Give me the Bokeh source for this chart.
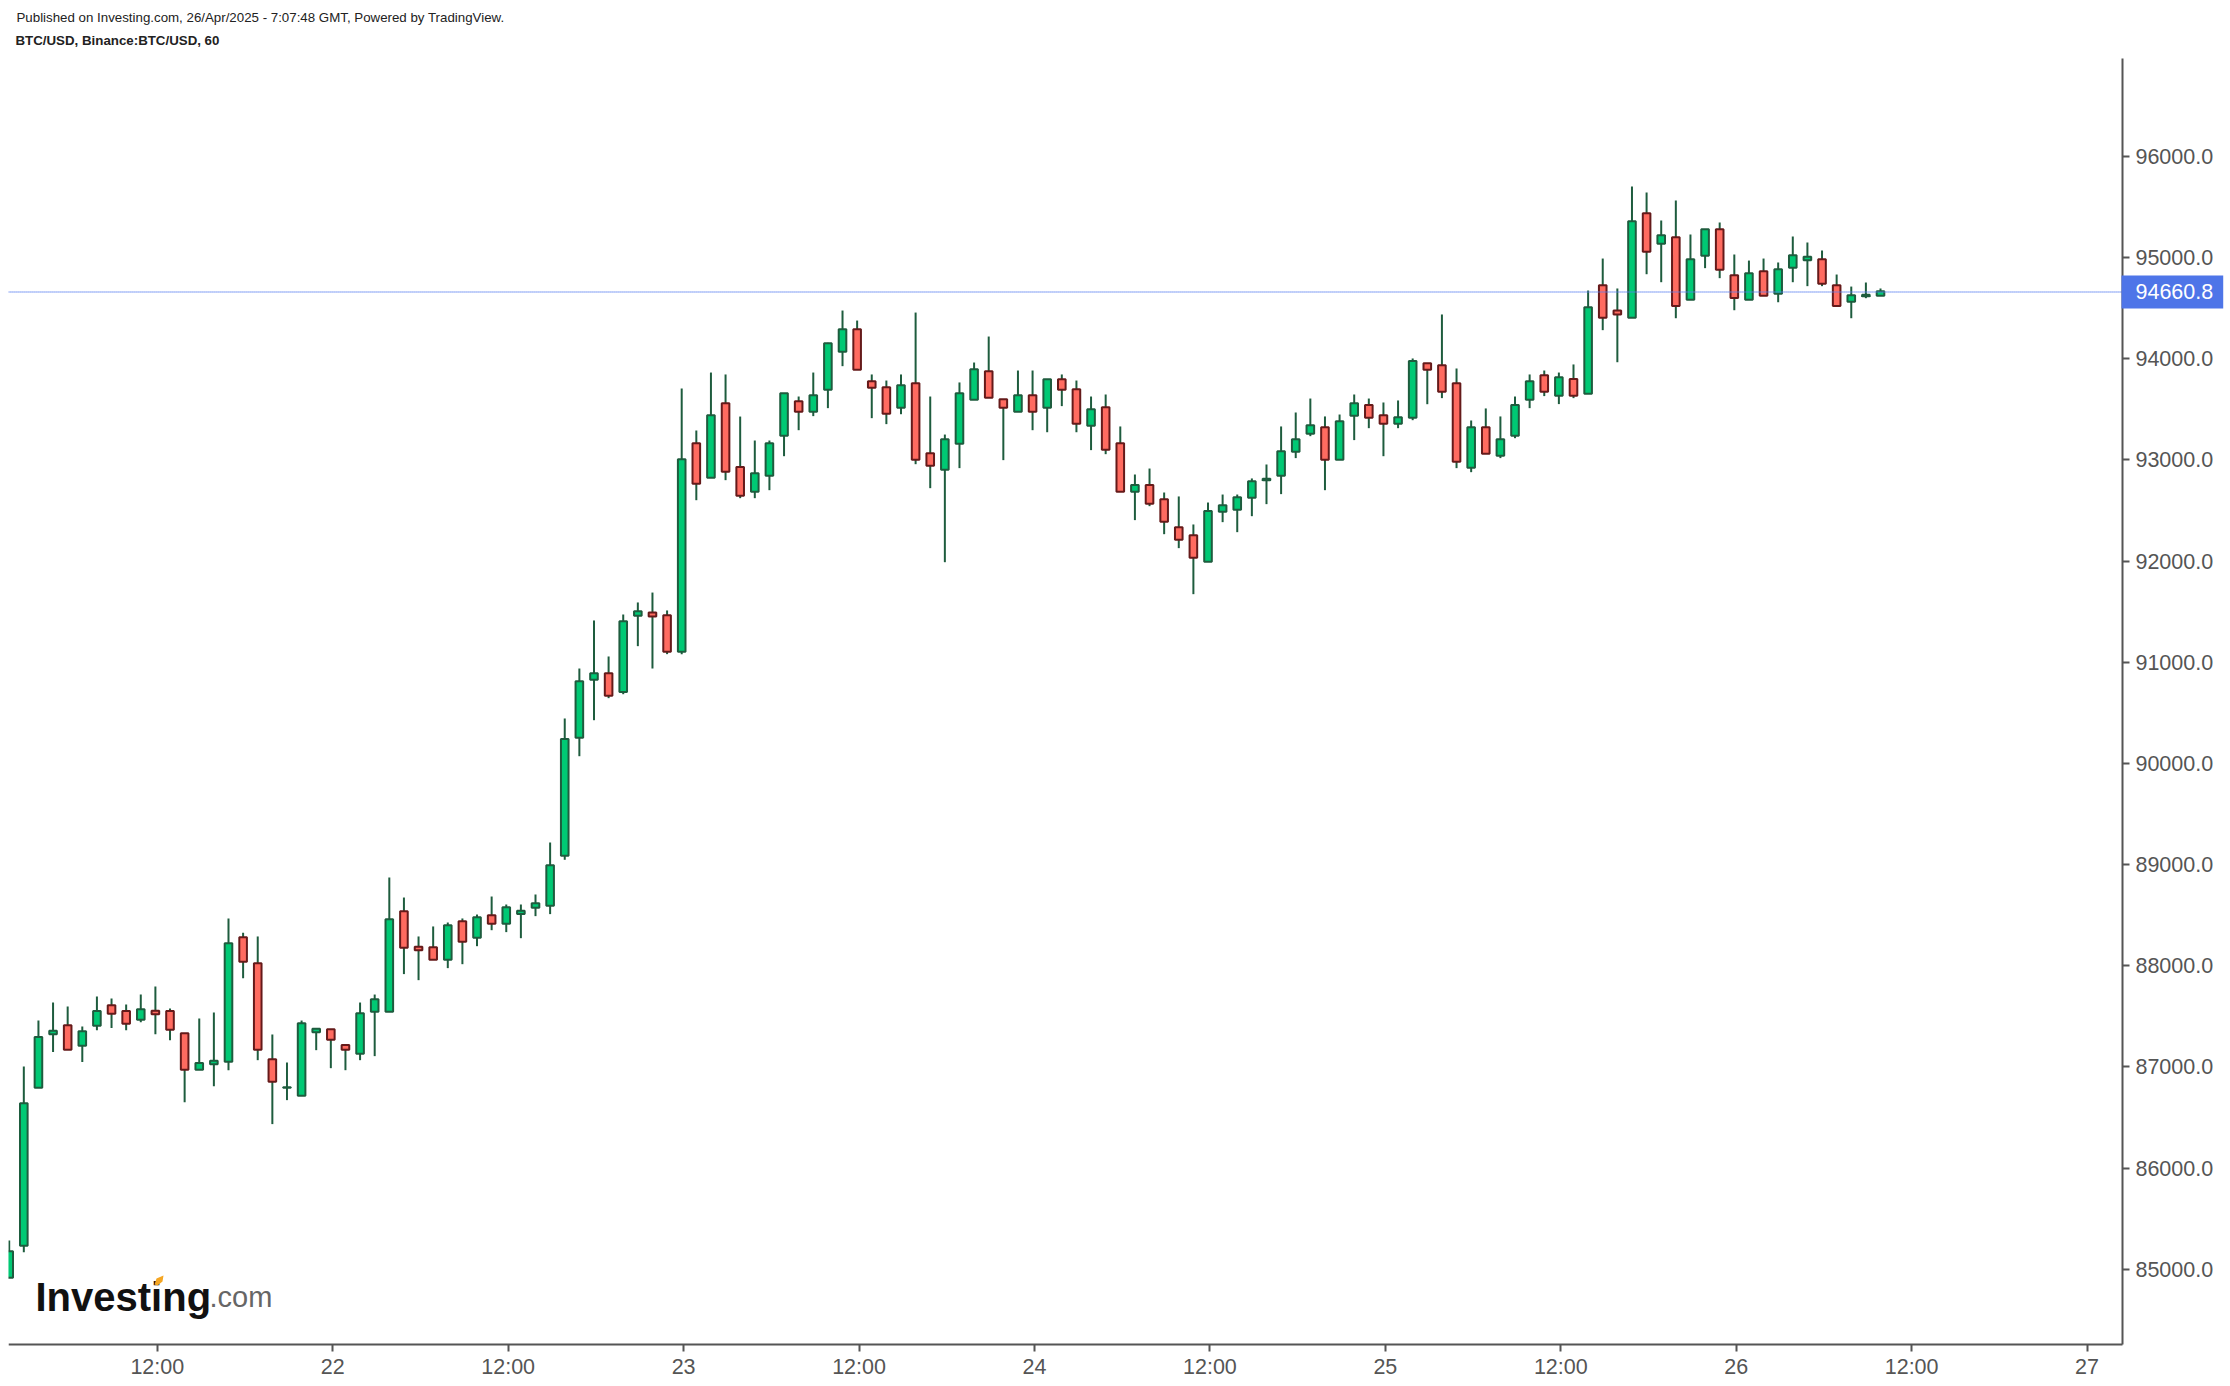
# BTC/USD hourly candles, Investing.com / TradingView look

import pandas as pd
from bokeh.plotting import figure, ColumnDataSource
from bokeh.models import BoxAnnotation, FixedTicker, Label, PolyAnnotation, Range1d
from bokeh.embed import file_html
from bokeh.resources import INLINE

opens = [84915, 85231, 86793, 87323, 87412, 87208, 87406, 87610, 87551, 87465,
         87554, 87551, 87333, 86971, 87027, 87050, 88282, 88025, 87076, 86793,
         86714, 87343, 87373, 87215, 87129, 87544, 87544, 88539, 88187, 88183,
         88058, 88440, 88276, 88500, 88414, 88510, 88572, 88592, 89086, 90253,
         90826, 90892, 90707, 91459, 91492, 91465, 91103, 93166, 92823, 93561,
         92929, 92685, 92843, 93238, 93581, 93476, 93693, 94069, 94293, 93779,
         93719, 93515, 93759, 93067, 92902, 93159, 93594, 93878, 93601, 93476,
         93640, 93515, 93798, 93700, 93337, 93522, 93166, 92685, 92751, 92612,
         92335, 92256, 91993, 92487, 92507, 92625, 92800, 92843, 93080, 93258,
         93324, 93001, 93436, 93542, 93443, 93357, 93416, 93957, 93937, 93759,
         92922, 93324, 93041, 93238, 93594, 93838, 93634, 93799, 93654, 94728,
         94477, 94405, 95439, 95136, 95202, 94583, 95018, 95281, 94826, 94583,
         94866, 94642, 94899, 94975, 94985, 94728, 94563, 94619, 94622]
highs = [85284, 87004, 87458, 87636, 87597, 87399, 87696, 87676, 87617, 87715,
         87795, 87577, 87333, 87478, 87538, 88467, 88325, 88289, 87320, 87043,
         87458, 87376, 87373, 87218, 87636, 87715, 88872, 88674, 88289, 88388,
         88427, 88467, 88506, 88684, 88605, 88605, 88704, 89218, 90444, 90938,
         91413, 91057, 91472, 91591, 91689, 91512, 93706, 93291, 93864, 93845,
         93429, 93192, 93192, 93660, 93627, 93864, 94158, 94477, 94378, 93845,
         93785, 93845, 94457, 93627, 93251, 93766, 93963, 94220, 93601, 93884,
         93884, 93798, 93845, 93785, 93627, 93647, 93331, 92856, 92915, 92678,
         92639, 92362, 92579, 92658, 92658, 92817, 92955, 93331, 93469, 93607,
         93430, 93449, 93647, 93607, 93568, 93588, 94003, 93957, 94438, 93904,
         93390, 93509, 93430, 93627, 93845, 93884, 93864, 93944, 94675, 94991,
         94695, 95703, 95644, 95367, 95565, 95228, 95281, 95347, 95031, 94971,
         94991, 94952, 95209, 95149, 95070, 94833, 94714, 94754, 94695]
lows = [84915, 85168, 86793, 87146, 87169, 87047, 87363, 87383, 87363, 87442,
        87323, 87264, 86651, 86971, 86809, 86967, 87877, 87066, 86434, 86671,
        86714, 87165, 86987, 86967, 87066, 87106, 87544, 87917, 87857, 88058,
        87976, 88015, 88193, 88351, 88332, 88272, 88490, 88510, 89047, 90071,
        90427, 90645, 90684, 91159, 90938, 91080, 91080, 92602, 92823, 92800,
        92622, 92622, 92701, 93037, 93294, 93433, 93512, 93927, 93891, 93413,
        93354, 93452, 92958, 92721, 91989, 92919, 93594, 93614, 92998, 93476,
        93294, 93274, 93532, 93274, 93097, 93057, 92685, 92405, 92543, 92266,
        92128, 91673, 91993, 92385, 92286, 92444, 92563, 92662, 93018, 93235,
        92701, 93001, 93196, 93314, 93037, 93314, 93393, 93551, 93611, 92919,
        92879, 93060, 93018, 93215, 93512, 93631, 93552, 93611, 93654, 94283,
        93966, 94405, 94836, 94757, 94401, 94583, 94896, 94797, 94480, 94583,
        94622, 94559, 94757, 94718, 94718, 94523, 94401, 94599, 94622]
closes = [85178, 86641, 87294, 87356, 87169, 87353, 87551, 87524, 87426, 87570,
          87521, 87366, 86971, 87037, 87060, 88223, 88038, 87169, 86852, 86799,
          87432, 87376, 87267, 87169, 87531, 87669, 88460, 88177, 88154, 88058,
          88401, 88236, 88480, 88414, 88579, 88543, 88618, 88994, 90240, 90813,
          90892, 90668, 91406, 91505, 91452, 91103, 93008, 92764, 93443, 92882,
          92645, 92869, 93166, 93660, 93476, 93640, 94154, 94293, 93891, 93713,
          93456, 93739, 93001, 92942, 93205, 93660, 93897, 93614, 93515, 93640,
          93476, 93798, 93693, 93357, 93502, 93100, 92685, 92751, 92566, 92388,
          92210, 92032, 92494, 92553, 92632, 92790, 92813, 93087, 93205, 93344,
          93001, 93383, 93561, 93416, 93357, 93423, 93977, 93891, 93673, 92981,
          93324, 93060, 93205, 93542, 93779, 93673, 93818, 93634, 94510, 94405,
          94438, 95360, 95057, 95222, 94523, 94985, 95281, 94879, 94602, 94846,
          94622, 94886, 95024, 95008, 94741, 94523, 94629, 94632, 94668]

y_ticks = [85000, 86000, 87000, 88000, 89000, 90000, 91000, 92000, 93000, 94000, 95000, 96000]
# position en heures depuis la 1ere bougie
x_ticks = [10, 22, 34, 46, 58, 70, 82, 94, 106, 118, 130, 142]
x_labels = ["12:00", "22", "12:00", "23", "12:00", "24", "12:00", "25", "12:00", "26", "12:00", "27"]
last_price = 94660.8

df = pd.DataFrame({"open": opens, "high": highs, "low": lows, "close": closes})
df["hour"] = df.index
df["top"] = df[["open", "close"]].max(axis=1)
df["bottom"] = df[["open", "close"]].min(axis=1)
up = df["close"] >= df["open"]
df["fill"] = ["#00C974" if u else "#FF6B60" for u in up]
df["edge"] = ["#1E5C3E" if u else "#651A1A" for u in up]
source = ColumnDataSource(df)

# zone de tracé = toute la page, les axes sont posés à l'intérieur (labels hors frame sinon invisibles)
x_left, x_right = -0.05, 144.55
y_bottom, y_top = 84255, 96969
p = figure(frame_width=2230, frame_height=1386, output_backend="svg", toolbar_location=None,
           x_range=Range1d(-0.595, 151.94), y_range=Range1d(83840, 97542),
           y_axis_location="right", min_border=0)
p.grid.visible = False
p.outline_line_color = None
p.background_fill_color = "white"

p.segment("hour", "high", "hour", "low", source=source, line_color="#1E5C3E", line_width=2)
p.vbar(x="hour", top="top", bottom="bottom", width=0.52, source=source,
       fill_color="fill", line_color="edge", line_width=2)
# la 1ere bougie est coupée par le bord gauche
p.add_layout(BoxAnnotation(right=x_left, fill_color="white", fill_alpha=1, line_color=None))

for ax in [p.xaxis[0], p.yaxis[0]]:
    ax.axis_line_color = "#555555"
    ax.axis_line_width = 2
    ax.major_tick_line_color = "#555555"
    ax.major_tick_line_width = 2
    ax.major_tick_in = 0
    ax.major_tick_out = 7
    ax.minor_tick_line_color = None
    ax.major_label_text_color = "#555555"
    ax.major_label_text_font = "Liberation Sans"
    ax.major_label_text_font_size = "21.5px"
    ax.major_label_standoff = 6

tick_pos = [t + 0.13 for t in x_ticks]
p.xaxis[0].ticker = FixedTicker(ticks=tick_pos)
p.xaxis[0].major_label_overrides = dict(zip(tick_pos, x_labels))
p.xaxis[0].fixed_location = y_bottom
p.xaxis[0].bounds = (x_left, x_right)
p.xaxis[0].major_label_standoff = 3
p.yaxis[0].ticker = FixedTicker(ticks=y_ticks)
p.yaxis[0].major_label_overrides = {v: "%.1f" % v for v in y_ticks}
p.yaxis[0].fixed_location = x_right
p.yaxis[0].bounds = (y_bottom, y_top)

p.line([x_left, x_right], [last_price, last_price], line_color="#5B7FF0", line_dash=[1, 1], line_width=1.5)
p.add_layout(Label(x=2121, y=last_price, x_units="canvas", y_units="data", text="%.1f" % last_price,
                   text_color="white", text_font="Liberation Sans", text_font_size="21.5px",
                   text_align="left", text_baseline="middle", background_fill_color="#4E75E8",
                   padding=(14, 10, 9, 9)))

# textes en haut
p.add_layout(Label(x=16, y=17, x_units="canvas", y_units="canvas",
                   text="Published on Investing.com, 26/Apr/2025 - 7:07:48 GMT, Powered by TradingView.",
                   text_font="Liberation Sans", text_font_size="13.3px", text_color="#222222",
                   text_baseline="middle"))
p.add_layout(Label(x=15, y=40, x_units="canvas", y_units="canvas", text="BTC/USD, Binance:BTC/USD, 60",
                   text_font="Liberation Sans", text_font_style="bold", text_font_size="13.3px",
                   text_color="#222222", text_baseline="middle"))

# logo
p.add_layout(Label(x=35, y=1296, x_units="canvas", y_units="canvas", text="Investing",
                   text_font="Liberation Sans", text_font_style="bold", text_font_size="40px",
                   text_color="#111111", text_baseline="alphabetic"))
p.add_layout(Label(x=209, y=1296, x_units="canvas", y_units="canvas", text=".com",
                   text_font="Liberation Sans", text_font_size="29px",
                   text_color="#666666", text_baseline="alphabetic"))
p.add_layout(PolyAnnotation(xs=[154, 156, 163, 162, 157], ys=[1284, 1278, 1275, 1281, 1285],
                            xs_units="canvas", ys_units="canvas",
                            fill_color="#F5A623", fill_alpha=1, line_color=None))

open("out.html", "w").write(file_html(p, INLINE))
